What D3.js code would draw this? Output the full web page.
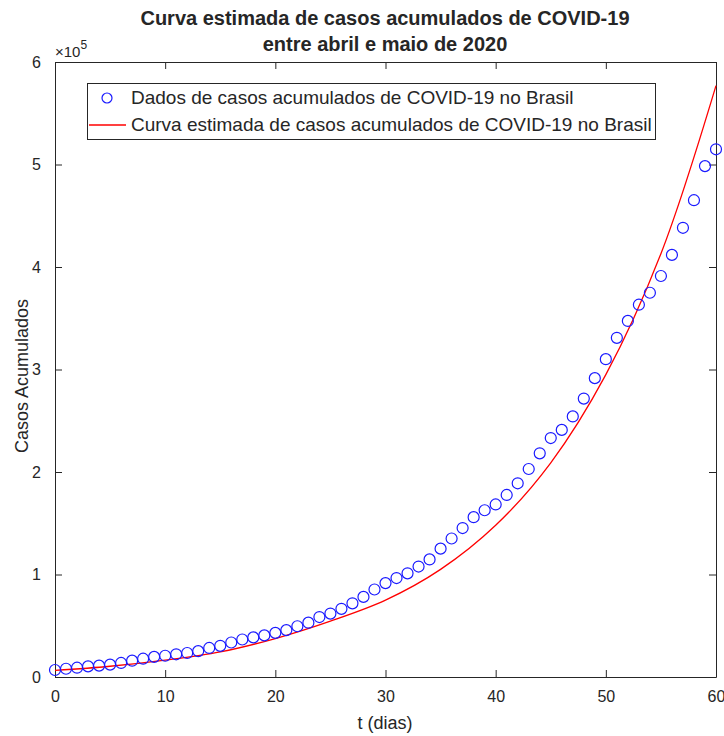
<!DOCTYPE html>
<html>
<head>
<meta charset="utf-8">
<script src="https://cdn.jsdelivr.net/npm/d3@7"></script>
<style>
  body { margin: 0; background: #fff; }
  text { font-family: "Liberation Sans", Arial, sans-serif; fill: #262626; }
</style>
</head>
<body>
<div id="chart"></div>
<script>
// dias desde 1 de abril de 2020
var dias = d3.range(0, 61);
var casos = [
  6836, 8044, 9056, 10360, 11130, 12056, 13717, 15927, 17857, 19638,
  20727, 22169, 23430, 25262, 28320, 30425, 33682, 36599, 38654, 40581,
  43079, 45757, 49492, 52995, 58509, 61888, 66501, 71886, 78162, 85380,
  91589, 96559, 101147, 107780, 114715, 125218, 135106, 145328, 155939, 162699,
  168331, 177589, 188974, 202918, 218223, 233142, 241080, 254220, 271628, 291579,
  310087, 330890, 347398, 363211, 374898, 391222, 411821, 438238, 465166, 498440,
  514849
];
// curva estimada, lida do grafico a cada 5 dias
var tCurva = [0, 5, 10, 15, 20, 25, 30, 35, 40, 45, 50, 55, 60];
var casosCurva = [6500, 10500, 16500, 24500, 37500, 54500, 75000, 105000, 148000, 209000, 295000, 413000, 577000];
var xTicks = [0, 10, 20, 30, 40, 50, 60];
var yTicks = [0, 1, 2, 3, 4, 5, 6];
var legenda = ["Dados de casos acumulados de COVID-19 no Brasil",
               "Curva estimada de casos acumulados de COVID-19 no Brasil"];

var width = 724, height = 736;
var mLeft = 55, mRight = 716, mTop = 62, mBottom = 677;

var x = d3.scaleLinear().domain([0, 60]).range([mLeft, mRight]);
var y = d3.scaleLinear().domain([0, 6e5]).range([mBottom, mTop]);

var svg = d3.select("#chart").append("svg")
  .attr("width", width)
  .attr("height", height);

// titulo
svg.append("text").attr("x", 385).attr("y", 25)
  .attr("text-anchor", "middle").attr("font-size", 20).attr("font-weight", "bold")
  .text("Curva estimada de casos acumulados de COVID-19");
svg.append("text").attr("x", 385).attr("y", 51)
  .attr("text-anchor", "middle").attr("font-size", 20).attr("font-weight", "bold")
  .text("entre abril e maio de 2020");

// eixos
var axCol = "#262626";
var bottomAxis = svg.append("g").attr("transform", "translate(0," + mBottom + ")")
  .call(d3.axisBottom(x).tickValues(xTicks).tickSizeInner(-7).tickSizeOuter(0).tickPadding(14));
var topAxis = svg.append("g").attr("transform", "translate(0," + mTop + ")")
  .call(d3.axisTop(x).tickValues(xTicks).tickSizeInner(-7).tickSizeOuter(0).tickFormat(""));
var leftAxis = svg.append("g").attr("transform", "translate(" + mLeft + ",0)")
  .call(d3.axisLeft(y).tickValues(yTicks.map(function(d){return d * 1e5;}))
    .tickFormat(function(d){return d / 1e5;}).tickSizeInner(-7).tickSizeOuter(0).tickPadding(14));
var rightAxis = svg.append("g").attr("transform", "translate(" + mRight + ",0)")
  .call(d3.axisRight(y).tickValues(yTicks.map(function(d){return d * 1e5;}))
    .tickSizeInner(-7).tickSizeOuter(0).tickFormat(""));

[bottomAxis, topAxis, leftAxis, rightAxis].forEach(function(a){
  a.select(".domain").attr("stroke", axCol).attr("stroke-width", 1);
  a.selectAll(".tick line").attr("stroke", axCol);
  a.selectAll(".tick text").attr("font-size", 16).attr("fill", axCol)
    .style("font-family", "Liberation Sans, Arial, sans-serif");
});

// expoente
var ex = svg.append("text").attr("x", 55).attr("y", 57).attr("font-size", 15);
ex.append("tspan").text("\u00d710");
ex.append("tspan").attr("dy", -8).attr("font-size", 12).text("5");

// rotulos
svg.append("text").attr("x", 385).attr("y", 729)
  .attr("text-anchor", "middle").attr("font-size", 18).text("t (dias)");
svg.append("text").attr("transform", "translate(28,376) rotate(-90)")
  .attr("text-anchor", "middle").attr("font-size", 18).text("Casos Acumulados");

// curva estimada
var linha = d3.line()
  .x(function(d, i){return x(tCurva[i]);})
  .y(function(d){return y(d);})
  .curve(d3.curveCatmullRom.alpha(0.5));
svg.append("path").datum(casosCurva)
  .attr("d", linha)
  .attr("fill", "none").attr("stroke", "#ff0000").attr("stroke-width", 1.3);

// dados
svg.append("g").selectAll("circle")
  .data(casos)
  .enter()
  .append("circle")
  .attr("cx", function(d, i){return x(dias[i]);})
  .attr("cy", function(d){return y(d);})
  .attr("r", 5.5)
  .attr("fill", "none")
  .attr("stroke", "#1a1aff")
  .attr("stroke-width", 1.2);

// legenda
var leg = svg.append("g");
leg.append("rect").attr("x", 87.5).attr("y", 83.5).attr("width", 568).attr("height", 56)
  .attr("fill", "#fff").attr("stroke", axCol).attr("stroke-width", 1);
leg.append("circle").attr("cx", 107).attr("cy", 98).attr("r", 5)
  .attr("fill", "none").attr("stroke", "#1a1aff").attr("stroke-width", 1.2);
leg.append("line").attr("x1", 89).attr("x2", 126).attr("y1", 125).attr("y2", 125)
  .attr("stroke", "#ff0000").attr("stroke-width", 1.3);
leg.selectAll("text.leg").data(legenda).enter()
  .append("text").attr("class", "leg")
  .attr("x", 131)
  .attr("y", function(d, i){return 104 + i * 27;})
  .attr("font-size", 19)
  .text(function(d){return d;});
</script>
</body>
</html>
